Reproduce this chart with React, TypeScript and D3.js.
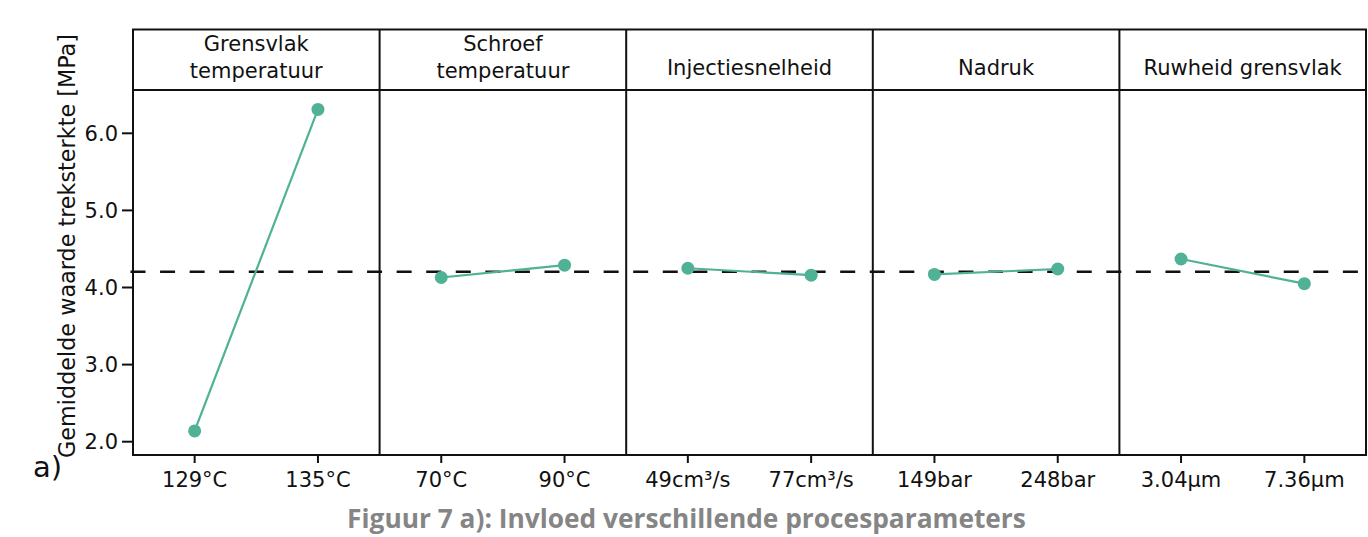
import React from "react";
import * as d3 from "d3";

const factors = ["Grensvlak temperatuur", "Schroef temperatuur", "Injectiesnelheid", "Nadruk", "Ruwheid grensvlak"];
const headerLines = [["Grensvlak", "temperatuur"], ["Schroef", "temperatuur"], ["Injectiesnelheid"], ["Nadruk"], ["Ruwheid grensvlak"]];
const levels = [
  ["129°C", "135°C"],
  ["70°C", "90°C"],
  ["49cm³/s", "77cm³/s"],
  ["149bar", "248bar"],
  ["3.04µm", "7.36µm"],
];
const grensvlakTemp = [2.14, 6.31];
const schroefTemp = [4.13, 4.29];
const injectie = [4.25, 4.16];
const nadruk = [4.17, 4.24];
const ruwheid = [4.37, 4.05];
const seriesValues = [grensvlakTemp, schroefTemp, injectie, nadruk, ruwheid];
const grandMean = 4.205;
const yTicks = [2.0, 3.0, 4.0, 5.0, 6.0];
const yTitle = "Gemiddelde waarde treksterkte [MPa]";
const caption = "Figuur 7 a): Invloed verschillende procesparameters";

const W = 1368;
const H = 537;
const left = 133;
const right = 1366;
const top = 29.5;
const headerBottom = 90;
const bottom = 455;
const teal = "#4fb196";
const font = "'DejaVu Sans', Verdana, sans-serif";

export default function App() {
  const x = d3.scaleBand<string>().domain(factors).range([left, right]).padding(0);
  const y = d3.scaleLinear().domain([2, 6]).range([441.7, 133.3]);
  const bw = x.bandwidth();

  const marks = (prefix: string) =>
    factors.map((f, i) => {
      const x0 = x(f)!;
      const px = d3.scalePoint<string>().domain(levels[i]).range([x0, x0 + bw]).padding(0.5);
      const vals = seriesValues[i];
      const line = d3.line<number>().x((_, j) => px(levels[i][j])!).y((d) => y(d));
      return (
        <g key={prefix + f}>
          <path d={line(vals)!} fill="none" stroke={teal} strokeWidth={2.2} />
          {vals.map((v, j) => (
            <circle key={j} cx={px(levels[i][j])} cy={y(v)} r={6.5} fill={teal} />
          ))}
        </g>
      );
    });

  return (
    <svg width={W} height={H} style={{ position: "absolute", left: 0, top: 0 }} fontFamily={font}>
      <rect x={0} y={0} width={W} height={H} fill="#fff" />
      {factors.map((f, i) => {
        const x0 = x(f)!;
        const px = d3.scalePoint<string>().domain(levels[i]).range([x0, x0 + bw]).padding(0.5);
        const lines = headerLines[i];
        return (
          <g key={f}>
            {lines.map((t, k) => (
              <text
                key={k}
                x={x0 + bw / 2}
                y={lines.length === 2 ? 51 + k * 27 : 75}
                textAnchor="middle"
                fontSize={21}
                fill="#111"
              >
                {t}
              </text>
            ))}
            {levels[i].map((l) => (
              <g key={l}>
                <line x1={px(l)} x2={px(l)} y1={bottom} y2={bottom + 8} stroke="#111" strokeWidth={2} />
                <text x={px(l)} y={487} textAnchor="middle" fontSize={21} fill="#111">
                  {l}
                </text>
              </g>
            ))}
          </g>
        );
      })}
      {/* frame */}
      <rect x={left} y={top} width={right - left} height={bottom - top} fill="none" stroke="#111" strokeWidth={2} />
      <line x1={left} x2={right} y1={headerBottom} y2={headerBottom} stroke="#111" strokeWidth={2} />
      {factors.slice(1).map((f) => (
        <line key={f} x1={x(f)} x2={x(f)} y1={top} y2={bottom} stroke="#111" strokeWidth={2} />
      ))}
      {/* mean line */}
      <line
        x1={130.5}
        x2={right}
        y1={y(grandMean)}
        y2={y(grandMean)}
        stroke="#111"
        strokeWidth={2.6}
        strokeDasharray="15 14.57"
      />
      {marks("m")}
      {/* y axis */}
      {yTicks.map((t) => (
        <g key={t}>
          <line x1={left - 11} x2={left} y1={y(t)} y2={y(t)} stroke="#111" strokeWidth={2} />
          <text x={118} y={y(t)} dy="0.36em" textAnchor="end" fontSize={21} fill="#111">
            {t.toFixed(1)}
          </text>
        </g>
      ))}
      <text transform={`translate(75, 246) rotate(-90)`} textAnchor="middle" fontSize={22.3} fill="#111">
        {yTitle}
      </text>
      <text x={33} y={477} fontSize={29} fill="#111">
        a)
      </text>
      <text
        x={686.5}
        y={528}
        textAnchor="middle"
        fontSize={26.3}
        fontWeight="bold"
        fontFamily="'Open Sans', sans-serif"
        fill="#858585"
      >
        {caption}
      </text>
    </svg>
  );
}
